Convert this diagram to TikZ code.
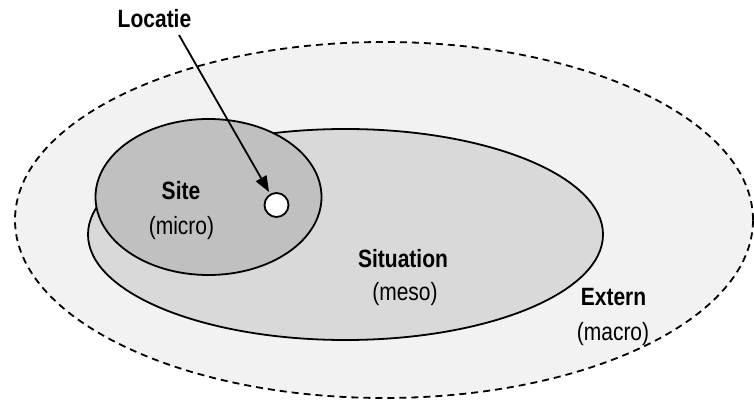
\documentclass[tikz,border=0pt]{standalone}
\usepackage{fontspec}
\setmainfont{Liberation Sans}
\newfontfamily\labfont[FakeStretch=0.84]{Liberation Sans}
\usetikzlibrary{arrows.meta}
\definecolor{outerfill}{HTML}{F2F2F2}
\definecolor{mesofill}{HTML}{D9D9D9}
\definecolor{microfill}{HTML}{C0C0C0}
\begin{document}
\begin{tikzpicture}[x=1pt,y=-1pt,
  lbl/.style={font=\labfont\fontsize{25}{30}\selectfont, inner sep=0pt, anchor=base},
  blbl/.style={font=\labfont\bfseries\fontsize{25}{30}\selectfont, inner sep=0pt, anchor=base},
  zone/.style={draw=black, line width=1.8pt},
  pointer/.style={draw=black, line width=1.8pt, -{Triangle[length=16pt,width=12pt]}, shorten >=2pt}]
\useasboundingbox (0,0) rectangle (754,403);
% outer (macro)
\path[zone, fill=outerfill, dash pattern=on 7pt off 5pt] (384,220) ellipse [x radius=369pt, y radius=178pt];
% situation (meso)
\path[zone, fill=mesofill] (345.5,234.5) ellipse [x radius=257.5pt, y radius=105.5pt];
% site (micro)
\path[zone, fill=microfill] (208.5,197) ellipse [x radius=113pt, y radius=78pt];
% location point
\node[circle, draw=black, line width=1.8pt, fill=white, minimum size=24pt, inner sep=0pt] (loc) at (276.5,205) {};
% labels
\node[blbl] (locatie) at (154.5,28) {Locatie};
\coordinate (arrowstart) at (179,35);
\draw[pointer] (arrowstart) -- (loc);
\node[blbl] (site) at (181,200) {Site};
\node[lbl] (micro) at (181.5,234) {(micro)};
\node[blbl] (situation) at (403,267) {Situation};
\node[lbl] (meso) at (405,300) {(meso)};
\node[blbl] (extern) at (613.5,305) {Extern};
\node[lbl] (macro) at (613,340) {(macro)};
\end{tikzpicture}
\end{document}
